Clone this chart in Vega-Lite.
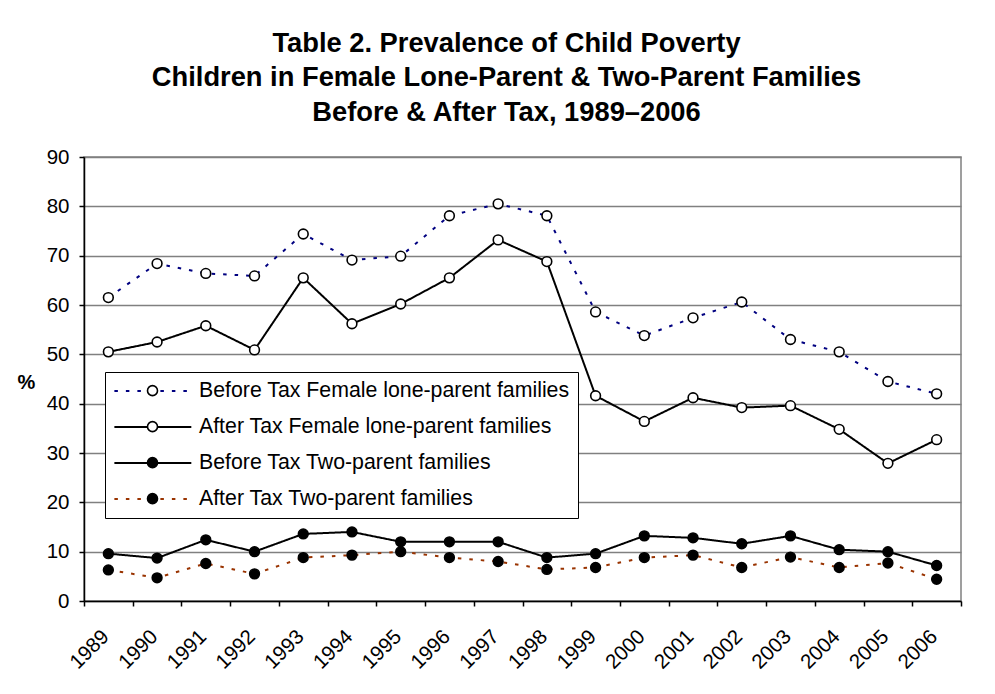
{
  "$schema": "https://vega.github.io/schema/vega-lite/v6.json",
  "autosize": "none",
  "width": 877,
  "height": 444,
  "padding": {"left": 84, "top": 157, "right": 34, "bottom": 93},
  "background": "white",
  "title": {
    "text": ["Table 2. Prevalence of Child Poverty", "Children in Female Lone-Parent & Two-Parent Families", "Before & After Tax, 1989\u20132006"],
    "font": "Liberation Sans",
    "fontSize": 27.3,
    "fontWeight": "bold",
    "color": "black",
    "anchor": "middle",
    "lineHeight": 34.5,
    "dx": -16,
    "offset": 21
  },
  "config": {
    "view": {"stroke": "#808080", "strokeWidth": 1.5},
    "axis": {
      "labelFont": "Liberation Sans",
      "labelFontSize": 20.5,
      "labelColor": "black",
      "domainColor": "black",
      "domainWidth": 1.5,
      "tickColor": "black",
      "tickWidth": 1.5,
      "tickSize": 5,
      "titleFont": "Liberation Sans",
      "titleColor": "black"
    }
  },
  "data": {
    "values": [
      {"year": "1989", "series": "Before Tax Female lone-parent families", "value": 61.5},
      {"year": "1990", "series": "Before Tax Female lone-parent families", "value": 68.4},
      {"year": "1991", "series": "Before Tax Female lone-parent families", "value": 66.4},
      {"year": "1992", "series": "Before Tax Female lone-parent families", "value": 65.9},
      {"year": "1993", "series": "Before Tax Female lone-parent families", "value": 74.4},
      {"year": "1994", "series": "Before Tax Female lone-parent families", "value": 69.1},
      {"year": "1995", "series": "Before Tax Female lone-parent families", "value": 69.9},
      {"year": "1996", "series": "Before Tax Female lone-parent families", "value": 78.1},
      {"year": "1997", "series": "Before Tax Female lone-parent families", "value": 80.5},
      {"year": "1998", "series": "Before Tax Female lone-parent families", "value": 78.1},
      {"year": "1999", "series": "Before Tax Female lone-parent families", "value": 58.6},
      {"year": "2000", "series": "Before Tax Female lone-parent families", "value": 53.8},
      {"year": "2001", "series": "Before Tax Female lone-parent families", "value": 57.4},
      {"year": "2002", "series": "Before Tax Female lone-parent families", "value": 60.6},
      {"year": "2003", "series": "Before Tax Female lone-parent families", "value": 53.0},
      {"year": "2004", "series": "Before Tax Female lone-parent families", "value": 50.5},
      {"year": "2005", "series": "Before Tax Female lone-parent families", "value": 44.5},
      {"year": "2006", "series": "Before Tax Female lone-parent families", "value": 42.0},
      {"year": "1989", "series": "After Tax Female lone-parent families", "value": 50.5},
      {"year": "1990", "series": "After Tax Female lone-parent families", "value": 52.5},
      {"year": "1991", "series": "After Tax Female lone-parent families", "value": 55.8},
      {"year": "1992", "series": "After Tax Female lone-parent families", "value": 50.9},
      {"year": "1993", "series": "After Tax Female lone-parent families", "value": 65.5},
      {"year": "1994", "series": "After Tax Female lone-parent families", "value": 56.2},
      {"year": "1995", "series": "After Tax Female lone-parent families", "value": 60.2},
      {"year": "1996", "series": "After Tax Female lone-parent families", "value": 65.5},
      {"year": "1997", "series": "After Tax Female lone-parent families", "value": 73.2},
      {"year": "1998", "series": "After Tax Female lone-parent families", "value": 68.8},
      {"year": "1999", "series": "After Tax Female lone-parent families", "value": 41.6},
      {"year": "2000", "series": "After Tax Female lone-parent families", "value": 36.4},
      {"year": "2001", "series": "After Tax Female lone-parent families", "value": 41.2},
      {"year": "2002", "series": "After Tax Female lone-parent families", "value": 39.2},
      {"year": "2003", "series": "After Tax Female lone-parent families", "value": 39.6},
      {"year": "2004", "series": "After Tax Female lone-parent families", "value": 34.8},
      {"year": "2005", "series": "After Tax Female lone-parent families", "value": 27.9},
      {"year": "2006", "series": "After Tax Female lone-parent families", "value": 32.7},
      {"year": "1989", "series": "Before Tax Two-parent families", "value": 9.6},
      {"year": "1990", "series": "Before Tax Two-parent families", "value": 8.7},
      {"year": "1991", "series": "Before Tax Two-parent families", "value": 12.4},
      {"year": "1992", "series": "Before Tax Two-parent families", "value": 10.0},
      {"year": "1993", "series": "Before Tax Two-parent families", "value": 13.6},
      {"year": "1994", "series": "Before Tax Two-parent families", "value": 14.0},
      {"year": "1995", "series": "Before Tax Two-parent families", "value": 12.0},
      {"year": "1996", "series": "Before Tax Two-parent families", "value": 12.0},
      {"year": "1997", "series": "Before Tax Two-parent families", "value": 12.0},
      {"year": "1998", "series": "Before Tax Two-parent families", "value": 8.8},
      {"year": "1999", "series": "Before Tax Two-parent families", "value": 9.6},
      {"year": "2000", "series": "Before Tax Two-parent families", "value": 13.2},
      {"year": "2001", "series": "Before Tax Two-parent families", "value": 12.8},
      {"year": "2002", "series": "Before Tax Two-parent families", "value": 11.6},
      {"year": "2003", "series": "Before Tax Two-parent families", "value": 13.2},
      {"year": "2004", "series": "Before Tax Two-parent families", "value": 10.4},
      {"year": "2005", "series": "Before Tax Two-parent families", "value": 10.0},
      {"year": "2006", "series": "Before Tax Two-parent families", "value": 7.2},
      {"year": "1989", "series": "After Tax Two-parent families", "value": 6.3},
      {"year": "1990", "series": "After Tax Two-parent families", "value": 4.7},
      {"year": "1991", "series": "After Tax Two-parent families", "value": 7.6},
      {"year": "1992", "series": "After Tax Two-parent families", "value": 5.5},
      {"year": "1993", "series": "After Tax Two-parent families", "value": 8.8},
      {"year": "1994", "series": "After Tax Two-parent families", "value": 9.3},
      {"year": "1995", "series": "After Tax Two-parent families", "value": 10.0},
      {"year": "1996", "series": "After Tax Two-parent families", "value": 8.8},
      {"year": "1997", "series": "After Tax Two-parent families", "value": 8.0},
      {"year": "1998", "series": "After Tax Two-parent families", "value": 6.4},
      {"year": "1999", "series": "After Tax Two-parent families", "value": 6.8},
      {"year": "2000", "series": "After Tax Two-parent families", "value": 8.8},
      {"year": "2001", "series": "After Tax Two-parent families", "value": 9.3},
      {"year": "2002", "series": "After Tax Two-parent families", "value": 6.8},
      {"year": "2003", "series": "After Tax Two-parent families", "value": 8.9},
      {"year": "2004", "series": "After Tax Two-parent families", "value": 6.8},
      {"year": "2005", "series": "After Tax Two-parent families", "value": 7.7},
      {"year": "2006", "series": "After Tax Two-parent families", "value": 4.4}
    ]
  },
  "encoding": {
    "x": {
      "field": "year",
      "type": "ordinal",
      "scale": {"type": "band", "paddingInner": 0, "paddingOuter": 0},
      "axis": {
        "title": null,
        "labelAngle": -45,
        "labelAlign": "right",
        "labelBaseline": "top",
        "labelPadding": 20,
        "labelOffset": -10,
        "tickBand": "extent",
        "grid": false
      }
    },
    "y": {
      "field": "value",
      "type": "quantitative",
      "scale": {"domain": [0, 90], "nice": false},
      "axis": {
        "values": [0, 10, 20, 30, 40, 50, 60, 70, 80, 90],
        "title": "%",
        "titleAngle": 0,
        "titleFontSize": 20,
        "titleFontWeight": "bold",
        "titleAlign": "center",
        "titleBaseline": "middle",
        "titleX": -58,
        "titleY": 225,
        "labelPadding": 10,
        "grid": true,
        "gridColor": "#808080",
        "gridWidth": 1.5
      }
    }
  },
  "layer": [
    {
      "mark": {"type": "line", "strokeWidth": 2},
      "encoding": {
        "stroke": {
          "field": "series",
          "type": "nominal",
          "scale": {
            "domain": ["Before Tax Female lone-parent families", "After Tax Female lone-parent families", "Before Tax Two-parent families", "After Tax Two-parent families"],
            "range": ["#000080", "#000000", "#000000", "#993300"]
          },
          "legend": {
            "title": null,
            "orient": "none",
            "legendX": 21,
            "legendY": 215,
            "padding": 8,
            "rowPadding": 14,
            "symbolType": "M-1,0H7",
            "symbolSize": 370,
            "symbolStrokeWidth": 2,
            "labelOffset": 64,
            "labelFont": "Liberation Sans",
            "labelFontSize": 21.3,
            "labelColor": "black",
            "labelLimit": 1000,
            "strokeColor": "black",
            "fillColor": "white",
            "cornerRadius": 0,
            "zindex": 1
          }
        },
        "strokeDash": {
          "field": "series",
          "type": "nominal",
          "scale": {
            "domain": ["Before Tax Female lone-parent families", "After Tax Female lone-parent families", "Before Tax Two-parent families", "After Tax Two-parent families"],
            "range": [[3.5, 8], [1, 0], [1, 0], [3.5, 8]]
          },
          "legend": {
            "title": null,
            "orient": "none",
            "legendX": 21,
            "legendY": 215,
            "padding": 8,
            "rowPadding": 14,
            "symbolType": "M-1,0H7",
            "symbolSize": 370,
            "symbolStrokeWidth": 2,
            "labelOffset": 64,
            "labelFont": "Liberation Sans",
            "labelFontSize": 21.3,
            "labelColor": "black",
            "labelLimit": 1000,
            "strokeColor": "black",
            "fillColor": "white",
            "cornerRadius": 0,
            "zindex": 1
          }
        }
      }
    },
    {
      "mark": {"type": "point", "filled": true, "shape": "circle", "size": 95, "stroke": "black", "strokeWidth": 1.6, "opacity": 1},
      "encoding": {
        "fill": {
          "field": "series",
          "type": "nominal",
          "scale": {
            "domain": ["After Tax Female lone-parent families", "Before Tax Female lone-parent families", "After Tax Two-parent families", "Before Tax Two-parent families"],
            "range": ["white", "white", "black", "black"]
          },
          "legend": {
            "title": null,
            "orient": "none",
            "legendX": 21,
            "legendY": 215,
            "padding": 8,
            "rowPadding": 14,
            "values": ["Before Tax Female lone-parent families", "After Tax Female lone-parent families", "Before Tax Two-parent families", "After Tax Two-parent families"],
            "symbolType": "M2.48,0A0.52,0.52 0 1,1 3.52,0A0.52,0.52 0 1,1 2.48,0Z",
            "symbolSize": 370,
            "symbolStrokeColor": "black",
            "symbolStrokeWidth": 1.6,
            "labelOffset": 64,
            "labelFont": "Liberation Sans",
            "labelFontSize": 21.3,
            "labelOpacity": 0,
            "labelLimit": 1000,
            "zindex": 2,
            "encode": {"symbols": {"update": {"stroke": {"value": "black"}, "strokeWidth": {"value": 1.6}, "opacity": {"value": 1}}}}
          }
        }
      }
    }
  ]
}
